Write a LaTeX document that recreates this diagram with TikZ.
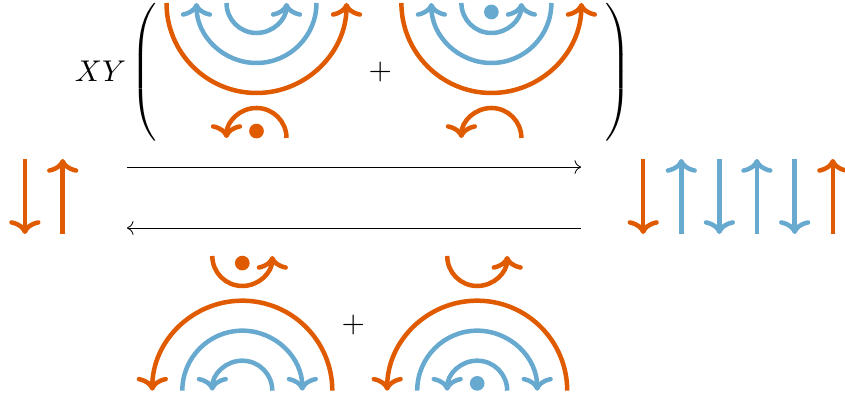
\documentclass[tikz,border=0pt]{standalone}
\usepackage{amsmath,amssymb}
\usepackage{xcolor}
\usepackage{tikz}
\usetikzlibrary{arrows.meta}
\definecolor{spinorange}{HTML}{E05A00}
\definecolor{spinblue}{HTML}{67A9CF}

\begin{document}
\begin{tikzpicture}[
  x=10pt, y=10pt,
  >=To,
  flow/.style={line width=1.5pt,
    -{Computer Modern Rightarrow[length=4.6pt,width=10.4pt,line width=1.5pt,round]}},
  oflow/.style={flow, color=spinorange},
  bflow/.style={flow, color=spinblue},
  odot/.style={circle, fill=spinorange, inner sep=0pt, minimum size=4.9pt},
  bdot/.style={circle, fill=spinblue, inner sep=0pt, minimum size=4.9pt},
  longarrow/.style={->, line width=0.27pt},
]
\useasboundingbox (0,0) rectangle (28.167,13.3);

% Top row: bracket
\node (xy) at (3.35,10.93) {$XY$};
\node[yscale=0.96] (lparen) at (4.85,10.9) {$\left(\rule{0pt}{26.5pt}\right.$};
\node[yscale=0.96] (rparen) at (20.57,10.9) {$\left.\rule{0pt}{26.5pt}\right)$};
\node (plustop) at (12.68,10.9) {$+$};

% Top left term
\draw[oflow] (5.55,13.2) arc (180:360:3);
\draw[bflow] (10.55,13.2) arc (360:180:2);
\draw[bflow] (7.55,13.2) arc (180:360:1);
\draw[oflow] (9.55,8.7) arc (0:180:1);
\node[odot] (dota) at (8.55,8.93) {};

% Top right term
\draw[oflow] (13.38,13.2) arc (180:360:3);
\draw[bflow] (18.38,13.2) arc (360:180:2);
\draw[bflow] (15.38,13.2) arc (180:360:1);
\draw[oflow] (17.38,8.7) arc (0:180:1);
\node[bdot] (dotb) at (16.38,12.9) {};

% Long arrows
\coordinate (left top) at (4.23,7.73);
\coordinate (right top) at (19.37,7.73);
\coordinate (left bot) at (4.23,5.7);
\coordinate (right bot) at (19.37,5.7);
\draw[longarrow] (left top) -- (right top);
\draw[longarrow] (right bot) -- (left bot);

% Spins, left
\draw[oflow] (0.83,8) -- (0.83,5.5);
\draw[oflow] (2.09,5.5) -- (2.09,8);

% Spins, right
\draw[oflow] (21.44,8) -- (21.44,5.5);
\draw[bflow] (22.71,5.5) -- (22.71,8);
\draw[bflow] (23.98,8) -- (23.98,5.5);
\draw[bflow] (25.23,5.5) -- (25.23,8);
\draw[bflow] (26.49,8) -- (26.49,5.5);
\draw[oflow] (27.76,5.5) -- (27.76,8);

% Bottom left term
\draw[oflow] (7.077,4.767) arc (180:360:1);
\node[odot] (dotc) at (8.077,4.53) {};
\draw[oflow] (11.077,0.277) arc (0:180:3);
\draw[bflow] (6.077,0.277) arc (180:0:2);
\draw[bflow] (9.077,0.277) arc (0:180:1);

% Bottom right term
\node (plusbot) at (11.78,2.46) {$+$};
\draw[oflow] (14.907,4.767) arc (180:360:1);
\draw[oflow] (18.907,0.277) arc (0:180:3);
\draw[bflow] (13.907,0.277) arc (180:0:2);
\draw[bflow] (16.907,0.277) arc (0:180:1);
\node[bdot] (dotd) at (15.907,0.52) {};

\end{tikzpicture}
\end{document}
